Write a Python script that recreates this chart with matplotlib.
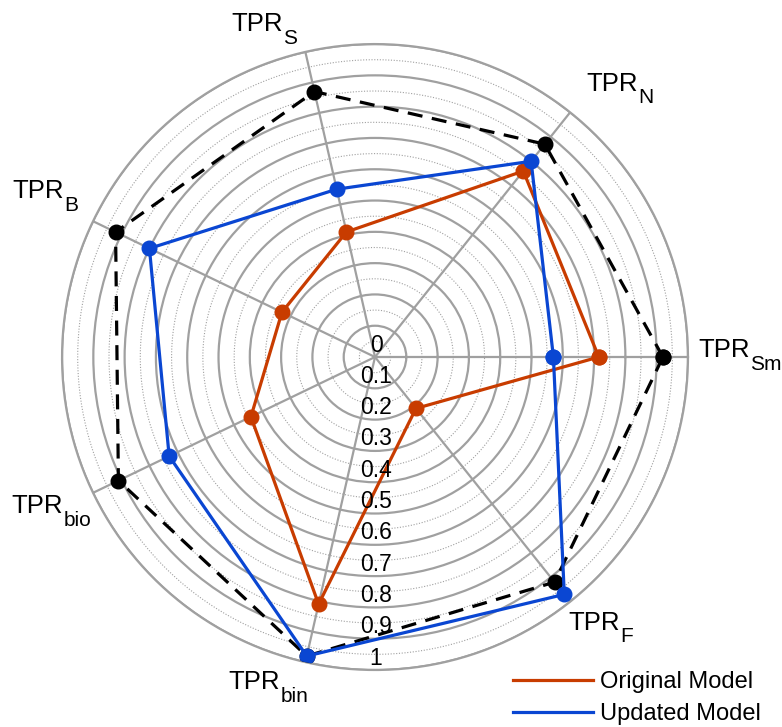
import numpy as np
import matplotlib.pyplot as plt
from matplotlib.lines import Line2D
from matplotlib.transforms import offset_copy

plt.rcParams['font.family'] = ['Liberation Sans', 'DejaVu Sans']

# axes labels (counter-clockwise from the right)
categories = ['Sm', 'N', 'S', 'B', 'bio', 'bin', 'F']
best = [0.92, 0.87, 0.87, 0.92, 0.91, 0.98, 0.92]
original = [0.715, 0.76, 0.41, 0.33, 0.44, 0.81, 0.21]
updated = [0.57, 0.80, 0.55, 0.80, 0.73, 0.98, 0.97]
rticks = [0, 0.1, 0.2, 0.3, 0.4, 0.5, 0.6, 0.7, 0.8, 0.9, 1]
rtick_labels = ['0', '0.1', '0.2', '0.3', '0.4', '0.5', '0.6', '0.7', '0.8', '0.9', '1']

ORANGE = '#c83c00'
BLUE = '#0a46d2'

n = len(categories)
theta = np.arange(n) * 2 * np.pi / n
theta_c = np.append(theta, theta[0])

def closed(v):
    return np.append(v, v[0])

fig = plt.figure(figsize=(7.82, 7.27), dpi=100)
ax = fig.add_axes([0.0793, 0.0784, 0.8005, 0.861], projection='polar')
ax.set_ylim(0, 1)
ax.spines['polar'].set_visible(False)

grid_col = '#a0a0a0'
ax.set_rgrids(rticks[1:], labels=[''] * 10)
ax.set_thetagrids(np.degrees(theta), labels=[''] * n)
ax.grid(True, color=grid_col, linewidth=1.6, linestyle='-')
ax.tick_params(length=0)

# dotted minor circles + outer ring
tt = np.linspace(0, 2 * np.pi, 400)
for r in np.arange(0.05, 1.0, 0.1):
    ax.plot(tt, np.full_like(tt, r), color=grid_col, linewidth=0.8,
            linestyle=(0, (1, 1.5)), zorder=1)
ax.plot(tt, np.ones_like(tt), color=grid_col, linewidth=1.6, clip_on=False, zorder=1)

ax.plot(theta_c, closed(best), color='black', linestyle=(0, (4.7, 3)),
        linewidth=2.3, marker='o', markersize=10.5, zorder=3)
ax.plot(theta_c, closed(original), color=ORANGE, linewidth=2.3,
        marker='o', markersize=10.5, zorder=4)
ax.plot(theta_c, closed(updated), color=BLUE, linewidth=2.3,
        marker='o', markersize=10.5, zorder=5)

# radial tick labels down the bottom
tr = offset_copy(ax.transData, fig=fig, x=1, y=12, units='dots')
for r, lab in zip(rticks, rtick_labels):
    ax.text(1.5 * np.pi, r, lab, transform=tr, ha='center', va='center',
            fontsize=16.5, zorder=6)

# category labels: "TPR" with a big, low subscript
label_r = [1.165, 1.155, 1.10, 1.17, 1.15, 1.115, 1.13]
label_dang = [0, -4, 6, 0, 0, -5, 1]
renderer = fig.canvas.get_renderer()
for t, c, lr, da in zip(theta, categories, label_r, label_dang):
    ang = t + np.radians(da)
    main = ax.text(ang, lr, 'TPR', ha='center', va='center', fontsize=18.5)
    sub = ax.annotate(c, xy=(1, 0), xycoords=main, xytext=(0.5, -5.5),
                      textcoords='offset points', ha='left', va='baseline',
                      fontsize=15)
    wsub = sub.get_window_extent(renderer).width
    main.set_transform(offset_copy(ax.transData, fig=fig, x=-wsub / 2,
                                   y=7, units='dots'))

handles = [Line2D([], [], color=ORANGE, linewidth=2.3),
           Line2D([], [], color=BLUE, linewidth=2.3)]
fig.legend(handles=handles, labels=['Original Model', 'Updated Model'],
           loc='upper left', bbox_to_anchor=(0.656, 0.077), frameon=False,
           fontsize=17, handlelength=3.4, handletextpad=0.3,
           labelspacing=0.42, borderpad=0, borderaxespad=0)

fig.savefig('out.png', dpi=100)
